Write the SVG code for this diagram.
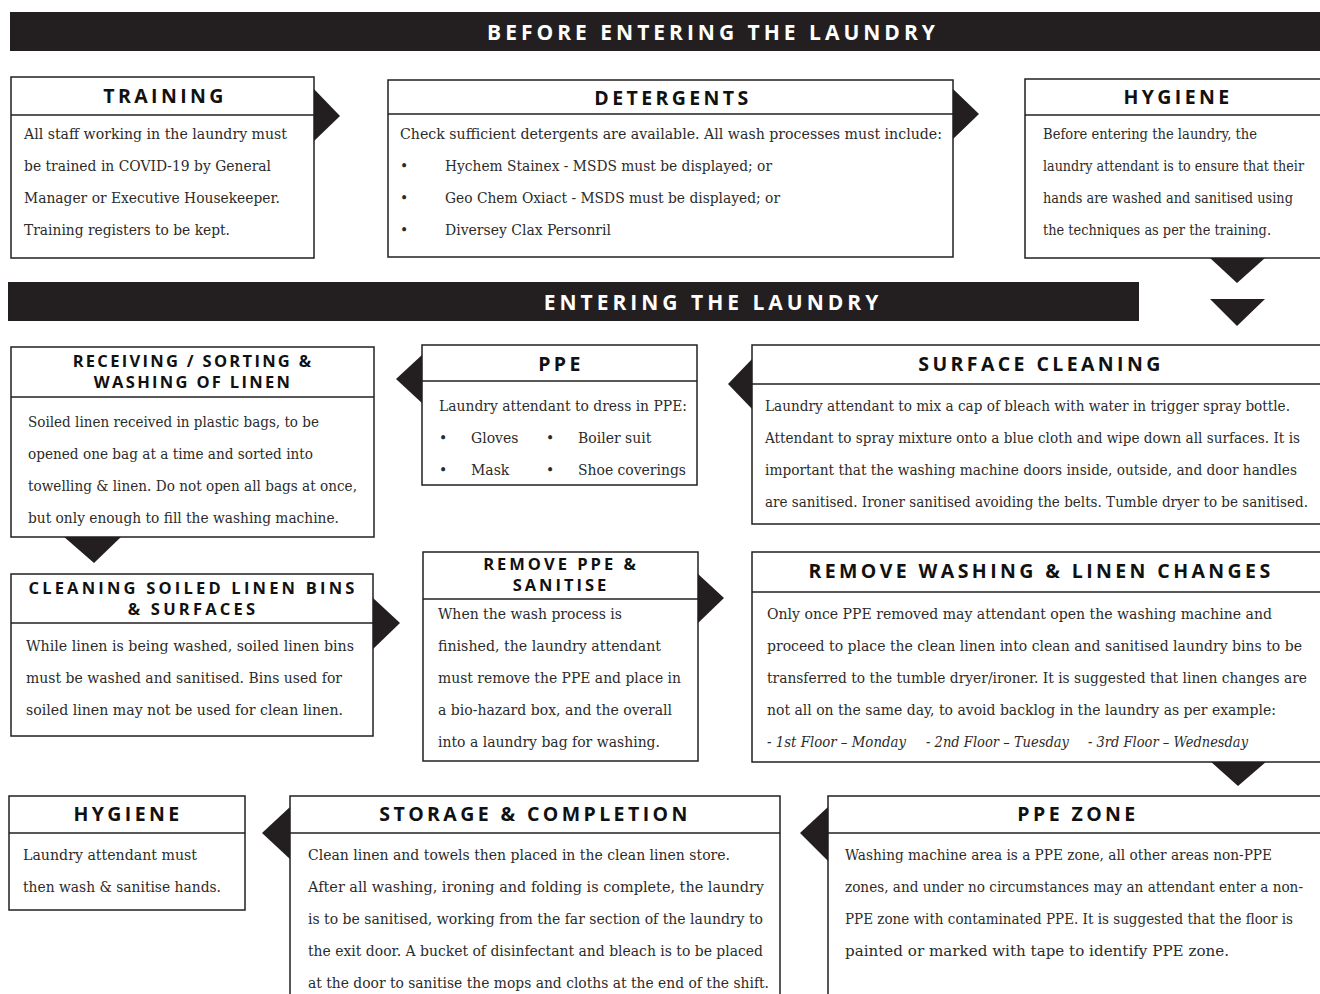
<svg xmlns="http://www.w3.org/2000/svg" width="1320" height="994" viewBox="0 0 1320 994">
<style>
.bg{fill:#ffffff}
.box{fill:#ffffff;stroke:#231f20;stroke-width:1.5}
.div{stroke:#231f20;stroke-width:1.5}
.ban{fill:#231f20}
.arr{fill:#231f20}
.bt{font-family:"Open Sans","Liberation Sans",sans-serif;font-weight:700;font-size:21px;letter-spacing:4px;fill:#ffffff;text-anchor:middle}
.h{font-family:"Open Sans","Liberation Sans",sans-serif;font-weight:700;font-size:19.5px;letter-spacing:3.4px;fill:#111111;text-anchor:middle}
.h2{font-family:"Open Sans","Liberation Sans",sans-serif;font-weight:700;font-size:16.5px;letter-spacing:2.8px;fill:#111111;text-anchor:middle}
.t{font-family:"DejaVu Serif","Liberation Serif",serif;font-size:14px;fill:#2b2b2b}
.i{font-style:italic}
</style>
<rect class="bg" x="0" y="0" width="1320" height="994"/>

<g id="banner-before">
<rect class="ban" x="10" y="12" width="1312" height="39"/>
<text class="bt" x="713" y="39.5">BEFORE ENTERING THE LAUNDRY</text>
</g>
<g id="banner-entering">
<rect class="ban" x="8" y="282" width="1131" height="39"/>
<text class="bt" x="713" y="309.5">ENTERING THE LAUNDRY</text>
</g>

<g id="connectors">
<polygon class="arr" points="313,88 340,116 313,142"/>
<polygon class="arr" points="952,88 979,114 952,140"/>
<polygon class="arr" points="1210,258 1265,258 1237,283"/>
<polygon class="arr" points="1210,299 1265,299 1237,326"/>
<polygon class="arr" points="423,354 396,379 423,404"/>
<polygon class="arr" points="753,358 728,384 753,410"/>
<polygon class="arr" points="63,536 122,536 94,563"/>
<polygon class="arr" points="372,597 400,623 372,650"/>
<polygon class="arr" points="697,573 724,598 697,624"/>
<polygon class="arr" points="1210,761 1267,761 1238,786"/>
<polygon class="arr" points="291,806 262,833 291,860"/>
<polygon class="arr" points="829,806 800,833 829,862"/>
</g>

<g id="training">
<rect class="box" x="11" y="77" width="303" height="181"/>
<line class="div" x1="11" y1="115" x2="314" y2="115"/>
<text class="h" x="165" y="103">TRAINING</text>
<text class="t" x="24" y="139" textLength="263" lengthAdjust="spacingAndGlyphs">All staff working in the laundry must</text>
<text class="t" x="24" y="171" textLength="247" lengthAdjust="spacingAndGlyphs">be trained in COVID-19 by General</text>
<text class="t" x="24" y="203" textLength="256" lengthAdjust="spacingAndGlyphs">Manager or Executive Housekeeper.</text>
<text class="t" x="24" y="235" textLength="206" lengthAdjust="spacingAndGlyphs">Training registers to be kept.</text>
</g>

<g id="detergents">
<rect class="box" x="388" y="80" width="565" height="177"/>
<line class="div" x1="388" y1="114" x2="953" y2="114"/>
<text class="h" x="673" y="105">DETERGENTS</text>
<text class="t" x="400" y="139" textLength="542" lengthAdjust="spacingAndGlyphs">Check sufficient detergents are available. All wash processes must include:</text>
<text class="t" x="400" y="171">•</text><text class="t" x="445" y="171" textLength="327" lengthAdjust="spacingAndGlyphs">Hychem Stainex - MSDS must be displayed; or</text>
<text class="t" x="400" y="203">•</text><text class="t" x="445" y="203" textLength="335" lengthAdjust="spacingAndGlyphs">Geo Chem Oxiact - MSDS must be displayed; or</text>
<text class="t" x="400" y="235">•</text><text class="t" x="445" y="235" textLength="166" lengthAdjust="spacingAndGlyphs">Diversey Clax Personril</text>
</g>

<g id="hygiene-before">
<rect class="box" x="1025" y="79" width="300" height="179"/>
<line class="div" x1="1025" y1="115" x2="1325" y2="115"/>
<text class="h" x="1178" y="104">HYGIENE</text>
<text class="t" x="1043" y="139" textLength="214" lengthAdjust="spacingAndGlyphs">Before entering the laundry, the</text>
<text class="t" x="1043" y="171" textLength="261" lengthAdjust="spacingAndGlyphs">laundry attendant is to ensure that their</text>
<text class="t" x="1043" y="203" textLength="250" lengthAdjust="spacingAndGlyphs">hands are washed and sanitised using</text>
<text class="t" x="1043" y="235" textLength="228" lengthAdjust="spacingAndGlyphs">the techniques as per the training.</text>
</g>

<g id="receiving">
<rect class="box" x="11" y="347" width="363" height="190"/>
<line class="div" x1="11" y1="397" x2="374" y2="397"/>
<text class="h2" x="193" y="367" style="letter-spacing:2.3px">RECEIVING / SORTING &amp;</text>
<text class="h2" x="193" y="388" style="letter-spacing:2.3px">WASHING OF LINEN</text>
<text class="t" x="28" y="427" textLength="291" lengthAdjust="spacingAndGlyphs">Soiled linen received in plastic bags, to be</text>
<text class="t" x="28" y="459" textLength="285" lengthAdjust="spacingAndGlyphs">opened one bag at a time and sorted into</text>
<text class="t" x="28" y="491" textLength="329" lengthAdjust="spacingAndGlyphs">towelling &amp; linen. Do not open all bags at once,</text>
<text class="t" x="28" y="523" textLength="311" lengthAdjust="spacingAndGlyphs">but only enough to fill the washing machine.</text>
</g>

<g id="ppe">
<rect class="box" x="422" y="345" width="275" height="140"/>
<line class="div" x1="422" y1="381" x2="697" y2="381"/>
<text class="h" x="561" y="371">PPE</text>
<text class="t" x="439" y="411" textLength="248" lengthAdjust="spacingAndGlyphs">Laundry attendant to dress in PPE:</text>
<text class="t" x="439" y="443">•</text><text class="t" x="471" y="443">Gloves</text>
<text class="t" x="546" y="443">•</text><text class="t" x="578" y="443">Boiler suit</text>
<text class="t" x="439" y="475">•</text><text class="t" x="471" y="475">Mask</text>
<text class="t" x="546" y="475">•</text><text class="t" x="578" y="475" textLength="108" lengthAdjust="spacingAndGlyphs">Shoe coverings</text>
</g>

<g id="surface-cleaning">
<rect class="box" x="752" y="345" width="573" height="179"/>
<line class="div" x1="752" y1="384" x2="1325" y2="384"/>
<text class="h" x="1041" y="371">SURFACE CLEANING</text>
<text class="t" x="765" y="411" textLength="525" lengthAdjust="spacingAndGlyphs">Laundry attendant to mix a cap of bleach with water in trigger spray bottle.</text>
<text class="t" x="765" y="443" textLength="535" lengthAdjust="spacingAndGlyphs">Attendant to spray mixture onto a blue cloth and wipe down all surfaces. It is</text>
<text class="t" x="765" y="475" textLength="532" lengthAdjust="spacingAndGlyphs">important that the washing machine doors inside, outside, and door handles</text>
<text class="t" x="765" y="507" textLength="543" lengthAdjust="spacingAndGlyphs">are sanitised. Ironer sanitised avoiding the belts. Tumble dryer to be sanitised.</text>
</g>

<g id="cleaning-bins">
<rect class="box" x="11" y="574" width="362" height="162"/>
<line class="div" x1="11" y1="623" x2="373" y2="623"/>
<text class="h2" x="193" y="594" style="letter-spacing:3.2px">CLEANING SOILED LINEN BINS</text>
<text class="h2" x="193" y="615" style="letter-spacing:3.2px">&amp; SURFACES</text>
<text class="t" x="26" y="651" textLength="328" lengthAdjust="spacingAndGlyphs">While linen is being washed, soiled linen bins</text>
<text class="t" x="26" y="683" textLength="316" lengthAdjust="spacingAndGlyphs">must be washed and sanitised. Bins used for</text>
<text class="t" x="26" y="715" textLength="317" lengthAdjust="spacingAndGlyphs">soiled linen may not be used for clean linen.</text>
</g>

<g id="remove-ppe">
<rect class="box" x="423" y="552" width="275" height="209"/>
<line class="div" x1="423" y1="599" x2="698" y2="599"/>
<text class="h2" x="561" y="570" style="letter-spacing:3px">REMOVE PPE &amp;</text>
<text class="h2" x="561" y="591" style="letter-spacing:3px">SANITISE</text>
<text class="t" x="438" y="619" textLength="184" lengthAdjust="spacingAndGlyphs">When the wash process is</text>
<text class="t" x="438" y="651" textLength="223" lengthAdjust="spacingAndGlyphs">finished, the laundry attendant</text>
<text class="t" x="438" y="683" textLength="243" lengthAdjust="spacingAndGlyphs">must remove the PPE and place in</text>
<text class="t" x="438" y="715" textLength="234" lengthAdjust="spacingAndGlyphs">a bio-hazard box, and the overall</text>
<text class="t" x="438" y="747" textLength="222" lengthAdjust="spacingAndGlyphs">into a laundry bag for washing.</text>
</g>

<g id="remove-washing">
<rect class="box" x="752" y="552" width="573" height="210"/>
<line class="div" x1="752" y1="592" x2="1325" y2="592"/>
<text class="h" x="1041" y="578">REMOVE WASHING &amp; LINEN CHANGES</text>
<text class="t" x="767" y="619" textLength="505" lengthAdjust="spacingAndGlyphs">Only once PPE removed may attendant open the washing machine and</text>
<text class="t" x="767" y="651" textLength="535" lengthAdjust="spacingAndGlyphs">proceed to place the clean linen into clean and sanitised laundry bins to be</text>
<text class="t" x="767" y="683" textLength="540" lengthAdjust="spacingAndGlyphs">transferred to the tumble dryer/ironer. It is suggested that linen changes are</text>
<text class="t" x="767" y="715" textLength="509" lengthAdjust="spacingAndGlyphs">not all on the same day, to avoid backlog in the laundry as per example:</text>
<text class="t i" x="767" y="747" textLength="139" lengthAdjust="spacingAndGlyphs">- 1st Floor – Monday</text>
<text class="t i" x="926" y="747" textLength="143" lengthAdjust="spacingAndGlyphs">- 2nd Floor – Tuesday</text>
<text class="t i" x="1088" y="747" textLength="160" lengthAdjust="spacingAndGlyphs">- 3rd Floor – Wednesday</text>
</g>

<g id="hygiene-after">
<rect class="box" x="9" y="796" width="236" height="114"/>
<line class="div" x1="9" y1="833" x2="245" y2="833"/>
<text class="h" x="128" y="821">HYGIENE</text>
<text class="t" x="23" y="860" textLength="174" lengthAdjust="spacingAndGlyphs">Laundry attendant must</text>
<text class="t" x="23" y="892" textLength="198" lengthAdjust="spacingAndGlyphs">then wash &amp; sanitise hands.</text>
</g>

<g id="storage">
<rect class="box" x="290" y="796" width="490" height="210"/>
<line class="div" x1="290" y1="833" x2="780" y2="833"/>
<text class="h" x="535" y="821">STORAGE &amp; COMPLETION</text>
<text class="t" x="308" y="860" textLength="422" lengthAdjust="spacingAndGlyphs">Clean linen and towels then placed in the clean linen store.</text>
<text class="t" x="308" y="892" textLength="456" lengthAdjust="spacingAndGlyphs">After all washing, ironing and folding is complete, the laundry</text>
<text class="t" x="308" y="924" textLength="455" lengthAdjust="spacingAndGlyphs">is to be sanitised, working from the far section of the laundry to</text>
<text class="t" x="308" y="956" textLength="455" lengthAdjust="spacingAndGlyphs">the exit door. A bucket of disinfectant and bleach is to be placed</text>
<text class="t" x="308" y="988" textLength="461" lengthAdjust="spacingAndGlyphs">at the door to sanitise the mops and cloths at the end of the shift.</text>
</g>

<g id="ppe-zone">
<rect class="box" x="828" y="796" width="497" height="210"/>
<line class="div" x1="828" y1="833" x2="1325" y2="833"/>
<text class="h" x="1078" y="821">PPE ZONE</text>
<text class="t" x="845" y="860" textLength="427" lengthAdjust="spacingAndGlyphs">Washing machine area is a PPE zone, all other areas non-PPE</text>
<text class="t" x="845" y="892" textLength="458" lengthAdjust="spacingAndGlyphs">zones, and under no circumstances may an attendant enter a non-</text>
<text class="t" x="845" y="924" textLength="448" lengthAdjust="spacingAndGlyphs">PPE zone with contaminated PPE. It is suggested that the floor is</text>
<text class="t" x="845" y="956" textLength="384" lengthAdjust="spacingAndGlyphs">painted or marked with tape to identify PPE zone.</text>
</g>
</svg>
